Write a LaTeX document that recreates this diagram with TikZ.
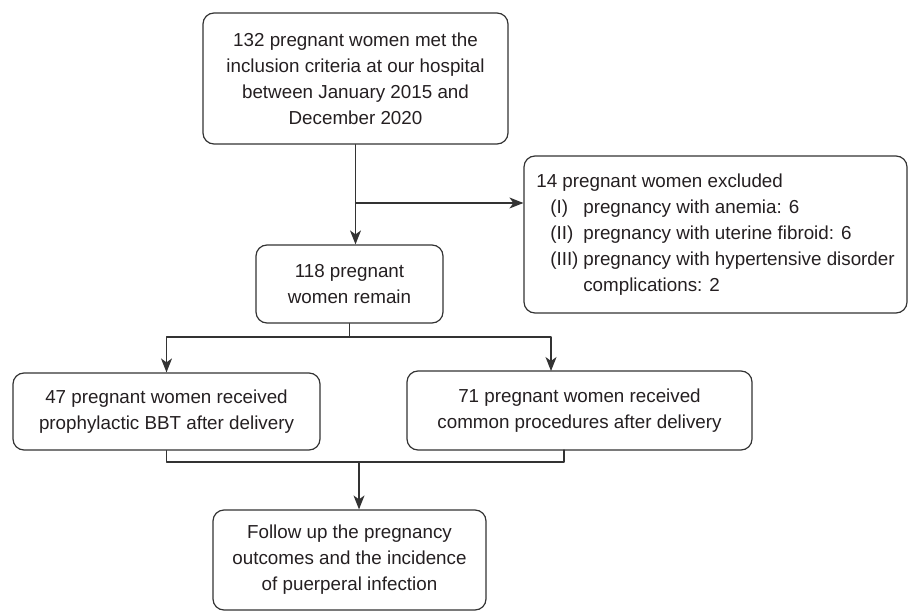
\documentclass[tikz,border=0pt]{standalone}
\usepackage{fontspec}
\setmainfont{Liberation Sans}
\usetikzlibrary{arrows.meta}

\begin{document}
\begin{tikzpicture}[x=1pt,y=-1pt,line width=1.2pt,line cap=round,line join=round,
  box/.style={draw=linegray,rounded corners=11pt,inner sep=0pt,align=center,
    text=textgray,font=\fontsize{18.8}{26}\selectfont},
  arr/.style={-{Stealth[length=14pt,width=11pt,inset=4pt]}}]
\definecolor{textgray}{rgb}{0.14, 0.12, 0.13}
\definecolor{linegray}{rgb}{0.2, 0.2, 0.2}
  \useasboundingbox (0,0) rectangle (909,612);

  % boxes
  \node[box,minimum width=305pt,minimum height=131pt] (start) at (355.5,78.5)
    {132 pregnant women met the\\inclusion criteria at our hospital\\between January 2015 and\\December 2020};
  \node[box,align=left,inner xsep=12pt,minimum width=383pt,minimum height=157pt] (excluded) at (715.5,234.5)
    {14 pregnant women excluded\\
     \hspace*{14pt}\makebox[33pt][l]{(I)}pregnancy with anemia: 6\\
     \hspace*{14pt}\makebox[33pt][l]{(II)}pregnancy with uterine fibroid: 6\\
     \hspace*{14pt}\makebox[33pt][l]{(III)}pregnancy with hypertensive disorder\\
     \hspace*{47pt}complications: 2};
  \node[box,minimum width=187pt,minimum height=78pt] (remain) at (349.5,284)
    {118 pregnant\\women remain};
  \node[box,minimum width=307pt,minimum height=77pt] (bbt) at (166.5,411.5)
    {47 pregnant women received\\prophylactic BBT after delivery};
  \node[box,minimum width=345pt,minimum height=79pt] (common) at (579.5,410.5)
    {71 pregnant women received\\common procedures after delivery};
  \node[box,minimum width=273pt,minimum height=100pt] (followup) at (349.5,560)
    {Follow up the pregnancy\\outcomes and the incidence\\of puerperal infection};

  \coordinate (split) at (355.5,203);
  \coordinate (fork) at (349.5,337);
  \coordinate (commonin) at (551,371);
  \coordinate (merge) at (359,462);
  \coordinate (commonout) at (564,450);

  % connectors
  \draw[draw=linegray,arr] (start.south) -- (start.south |- remain.north);
  \draw[draw=linegray,arr] (split) -- (split -| excluded.west);
  \draw[draw=linegray] (remain.south) -- (fork);
  \draw[draw=linegray,arr] (fork) -| (bbt.north);
  \draw[draw=linegray,arr] (fork) -| (commonin);
  \draw[draw=linegray] (bbt.south) |- (merge) -| (commonout);
  \draw[draw=linegray,arr] (merge) -- (merge |- followup.north);

\end{tikzpicture}
\end{document}
